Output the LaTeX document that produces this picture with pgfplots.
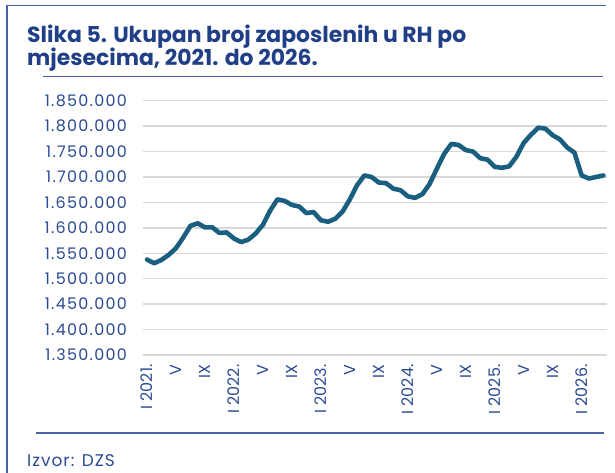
\documentclass[border=0pt]{standalone}
\usepackage{fontspec}
\setmainfont{Poppins}
\usepackage{pgfplots}
\pgfplotsset{compat=1.18}
\definecolor{titleblue}{HTML}{213F86}
\definecolor{tickblue}{HTML}{2B4A93}
\definecolor{linecol}{HTML}{1A5F80}
\definecolor{framecol}{HTML}{4563A8}
\definecolor{gridcol}{HTML}{D9D9D9}

% employment, monthly, I 2021 = 0
\pgfplotstableread{
m emp
0 1537600
1 1530500
2 1537000
3 1547000
4 1560000
5 1581000
6 1604000
7 1609000
8 1601000
9 1601000
10 1590000
11 1591000
12 1579000
13 1572000
14 1577000
15 1589000
16 1606000
17 1634000
18 1656000
19 1653000
20 1645000
21 1642000
22 1629000
23 1631000
24 1615000
25 1612000
26 1618000
27 1632000
28 1656000
29 1684000
30 1703000
31 1700000
32 1689000
33 1688000
34 1677000
35 1674000
36 1662000
37 1659000
38 1666000
39 1686000
40 1716000
41 1745000
42 1765000
43 1763000
44 1753000
45 1750000
46 1737000
47 1734000
48 1720000
49 1718000
50 1721000
51 1740000
52 1767000
53 1783000
54 1797000
55 1795000
56 1782000
57 1774000
58 1758000
59 1748000
60 1703000
61 1697000
62 1700000
63 1703000
}\emptab

\begin{document}
\begin{tikzpicture}[x=1bp,y=1bp]
\useasboundingbox (0,0) rectangle (615,-473);
\draw[framecol, line width=1.5bp] (7,-473) -- (7,-5.7) -- (606,-5.7);
\node[anchor=base west, inner sep=0, text=titleblue, font=\fontsize{22}{26}\selectfont\bfseries]
  at (27,-42.3) {Slika 5. Ukupan broj zaposlenih u RH po};
\node[anchor=base west, inner sep=0, text=titleblue, font=\fontsize{22}{26}\selectfont\bfseries]
  at (27,-65.5) {mjesecima, 2021. do 2026.};
\draw[framecol, line width=1.2bp] (43,-76.5) -- (603,-76.5);
\draw[framecol, line width=1.2bp] (36,-433) -- (604,-433);
\node[anchor=base west, inner sep=0, text=tickblue,
  font=\fontsize{17}{20}\selectfont\addfontfeature{LetterSpace=6}]
  at (27,-466) {Izvor: DZS};

\begin{axis}[
  at={(143.4bp,-355bp)}, anchor=south west,
  width=463.6bp, height=254.3bp, scale only axis,
  xmin=-0.5, xmax=63.5,
  ymin=1350000, ymax=1850000,
  ytick={1350000,1400000,...,1850000},
  scaled y ticks=false,
  xtick={0,4,...,60},
  xticklabels={I 2021.,V,IX,I 2022.,V,IX,I 2023.,V,IX,I 2024.,V,IX,I 2025.,V,IX,I 2026.},
  major tick length=0,
  axis line style={draw=none},
  ymajorgrids, grid style={gridcol, line width=1.5bp},
  y tick label style={/pgf/number format/fixed, /pgf/number format/precision=0,
    /pgf/number format/1000 sep={.}, /pgf/number format/assume math mode=true,
    font=\fontsize{16}{19}\selectfont\addfontfeature{LetterSpace=8},
    text=tickblue},
  yticklabel shift=13bp,
  x tick label style={rotate=90, anchor=east,
    font=\fontsize{16}{19}\selectfont, text=tickblue},
  xticklabel shift=6bp,
  clip=false,
]
\addplot[linecol, line width=4.6bp, line join=round, line cap=round] table[x=m, y=emp] {\emptab};
\end{axis}
\end{tikzpicture}
\end{document}
